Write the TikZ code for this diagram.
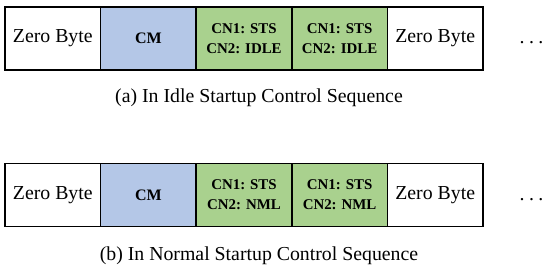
\documentclass[tikz,border=0pt]{standalone}
\usepackage{fontspec}
\setmainfont{Liberation Serif}
\definecolor{cmblue}{HTML}{B4C7E7}
\definecolor{cngreen}{HTML}{A9D18E}
\begin{document}
\begin{tikzpicture}[x=1pt,y=-1pt,
  cell/.style={draw, line width=1.6pt, minimum width=95.6pt, minimum height=63pt,
    inner sep=0pt, outer sep=0pt, align=center},
  zerocell/.style={cell, fill=white, font=\fontsize{19.8}{22}\selectfont},
  cmcell/.style={cell, fill=cmblue, font=\fontsize{16}{18}\bfseries\selectfont},
  cncell/.style={cell, fill=cngreen, font=\fontsize{14.9}{20}\bfseries\selectfont},
  dotsnode/.style={font=\fontsize{19.8}{22}\selectfont, inner sep=0pt},
  caption/.style={font=\fontsize{19.8}{22}\selectfont, inner sep=0pt, anchor=base}]
\useasboundingbox (0,0) rectangle (550,270);
% row (a)
\node[zerocell] (a1) at (52.8,38.5) {Zero Byte};
\node[cmcell]   (a2) at (148.4,38.5) {CM};
\node[cncell]   (a3) at (244.0,38.5) {CN1: STS\\CN2: IDLE};
\node[cncell]   (a4) at (339.6,38.5) {CN1: STS\\CN2: IDLE};
\node[zerocell] (a5) at (435.2,38.5) {Zero Byte};
\node[dotsnode, anchor=base] (a6) at (531.5,44) {.\hspace{4.5pt}.\hspace{4.5pt}.};
\node[caption] (capa) at (259,103) {(a) In Idle Startup Control Sequence};
% row (b)
\node[zerocell] (b1) at (52.8,195) {Zero Byte};
\node[cmcell]   (b2) at (148.4,195) {CM};
\node[cncell]   (b3) at (244.0,195) {CN1: STS\\CN2: NML};
\node[cncell]   (b4) at (339.6,195) {CN1: STS\\CN2: NML};
\node[zerocell] (b5) at (435.2,195) {Zero Byte};
\node[dotsnode, anchor=base] (b6) at (531.5,200.5) {.\hspace{4.5pt}.\hspace{4.5pt}.};
\node[caption] (capb) at (259,260) {(b) In Normal Startup Control Sequence};
\end{tikzpicture}
\end{document}
